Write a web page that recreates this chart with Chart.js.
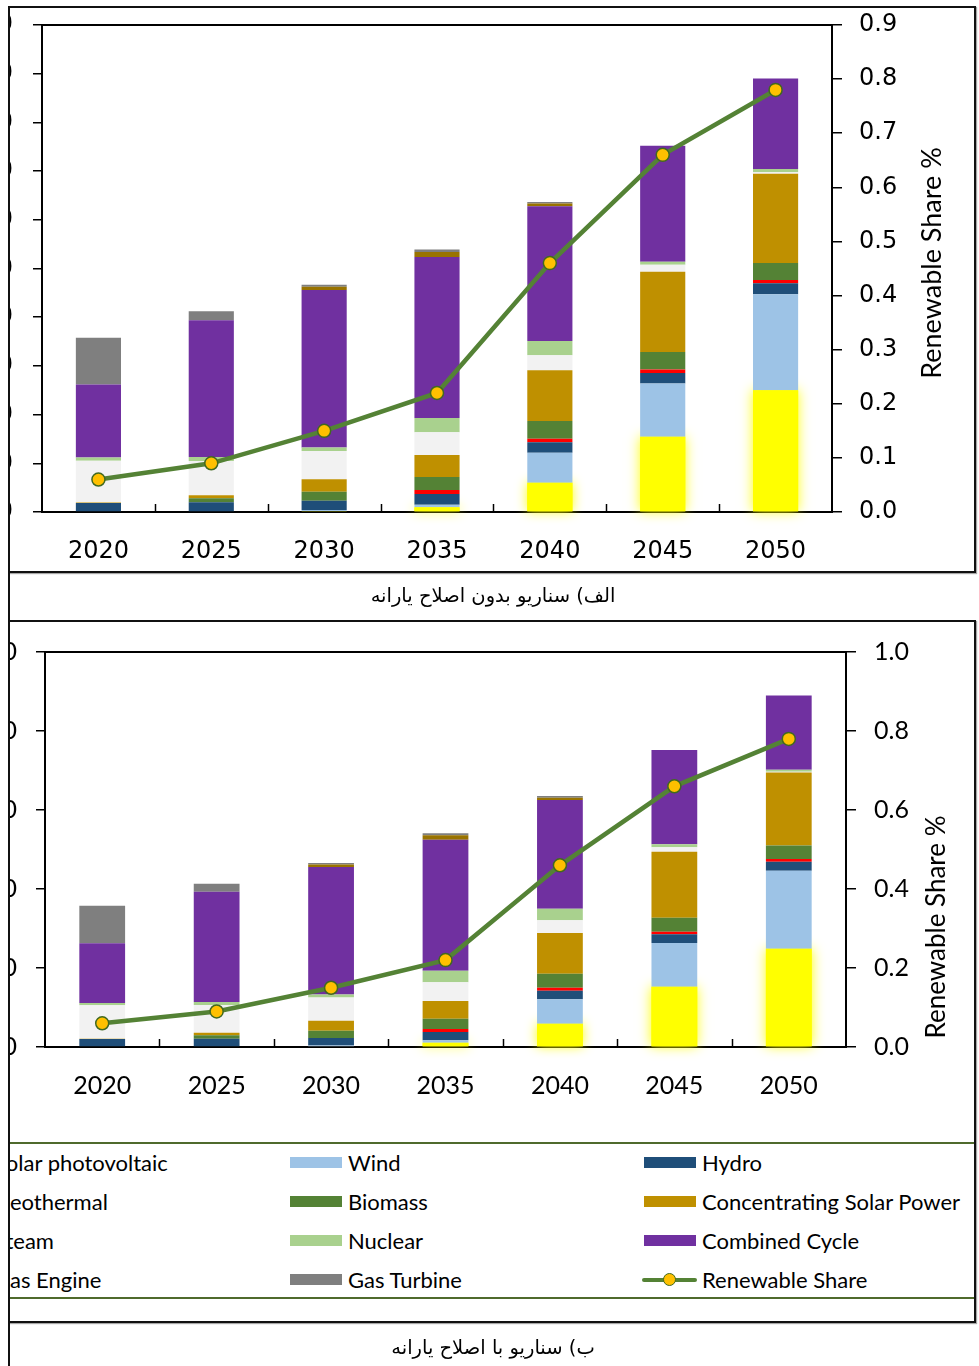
<!DOCTYPE html>
<html lang="fa">
<head>
<meta charset="utf-8">
<title>Renewable Share</title>
<script src="https://cdn.jsdelivr.net/npm/chart.js@4.4.1/dist/chart.umd.min.js"></script>
<style>
  html, body { margin: 0; padding: 0; background: #fff; }
  body { position: relative; width: 979px; height: 1366px; overflow: hidden; }
  .clip { position: absolute; left: 0; top: 0; width: 979px; height: 1366px; clip-path: inset(0 0 0 10px); }
  .clip canvas { position: absolute; left: -100px; }
  .frame { position: absolute; box-sizing: border-box; border: 2px solid #111; box-shadow: 1px 1px 1px rgba(0,0,0,0.35); }
  .vline { position: absolute; background: #111; }
  .caption { position: absolute; left: 10px; width: 966px; text-align: center; direction: rtl;
             font-family: "DejaVu Sans", sans-serif; font-size: 19.5px; color: #000; line-height: 26px; }
  .rule { position: absolute; left: 10px; width: 965px; height: 2px; background: #4f6a2c; }
  .lg-item { position: absolute; height: 30px; display: flex; align-items: center; white-space: nowrap;
             font-family: Lato, sans-serif; font-size: 22px; color: #000; }
  .lg-swatch { width: 52px; height: 11px; margin-right: 6px; }
  .lg-line { position: relative; width: 55px; height: 14px; margin-right: 5px; }
  .lg-line .bar { position: absolute; left: 0; top: 5px; width: 55px; height: 4.5px; background: #548235; border-radius: 2px; }
  .lg-line .dot { position: absolute; left: 21px; top: 0; width: 11px; height: 11px; border-radius: 50%;
                  background: #FFC000; border: 1.5px solid #41691f; }
</style>
</head>
<body>
<div class="clip">
  <canvas id="chartA" width="1079" height="572" style="top:0px"></canvas>
  <canvas id="chartB" width="1079" height="518" style="top:622px"></canvas>
  <div class="rule" style="top:1142px"></div>
  <div class="rule" style="top:1297px"></div>
  <div id="legend"></div>
</div>
<div class="frame" style="left:8px; top:6px; width:968px; height:567px;"></div>
<div class="frame" style="left:8px; top:620px; width:968px; height:703px;"></div>
<div class="vline" style="left:8px; top:6px; width:2px; height:1360px;"></div>
<div class="caption" style="top:583px">الف) سناریو بدون اصلاح یارانه</div>
<div class="caption" style="top:1335px">ب) سناریو با اصلاح یارانه</div>

<script>
// ---- Categories and series (electricity generation, TWh) ----
const years = ['2020', '2025', '2030', '2035', '2040', '2045', '2050'];

const techNames = ['Solar photovoltaic', 'Wind', 'Hydro', 'Geothermal', 'Biomass',
                   'Concentrating Solar Power', 'Steam', 'Nuclear', 'Combined Cycle',
                   'Gas Engine', 'Gas Turbine'];
const techColors = ['#FFFF00', '#9DC3E6', '#1F4E79', '#FF0000', '#548235',
                    '#BF9000', '#F2F2F2', '#A9D18E', '#7030A0', '#997300', '#7F7F7F'];
const shareLabel = 'Renewable Share';

// Scenario without subsidy reform
const solarPvA   = [0,    0,     2,     9.6,   60.2,  154.6, 249.9];
const windA      = [0,    0,     2,     5.5,   61.6,  109.4, 197.1];
const hydroA     = [18.5, 19.9,  19.2,  21.9,  21.2,  21.2,  22.6];
const geoA       = [0,    0,     0,     8.2,   7.6,   7.6,   6.8];
const biomassA   = [0,    8.2,   18.5,  26.7,  36.3,  35.5,  34.9];
const cspA       = [1,    6.2,   25.3,  45.2,  104.1, 164.9, 183.4];
const steamA     = [85.6, 70.5,  58.2,  46.5,  30.8,  14.4,  2.7];
const nuclearA   = [6.8,  8.2,   7.5,   29.4,  29.4,  6.2,   6.8];
const combinedA  = [149.9, 280.7, 323,  330.6, 276.6, 238.2, 186];
const gasEngineA = [0,    0,     6.8,   10.3,  5.5,   0,     0];
const gasTurbA   = [95.8, 18.5,  4.1,   5,     3.5,   0,     0];
const shareA     = [0.06, 0.09,  0.15,  0.22,  0.46,  0.66,  0.78];

// Scenario with subsidy reform
const solarPvB   = [0,    0,     2,     11,    59.1,  152.8, 249];
const windB      = [0,    0,     1.5,   5.9,   61.6,  110.5, 197.5];
const hydroB     = [20.3, 21.1,  19,    21.1,  21.9,  21.9,  22.8];
const geoB       = [0,    0,     0,     7.6,   7.6,   6.8,   6.8];
const biomassB   = [0,    8.4,   18.6,  26.2,  35.4,  35.4,  33.8];
const cspB       = [0.8,  6.8,   25.3,  44.7,  103,   167.1, 184.8];
const steamB     = [84.4, 70,    59.1,  47.3,  32.1,  11,    2];
const nuclearB   = [5.9,  7.6,   7.6,   29.5,  29.5,  7.6,   5];
const combinedB  = [151,  279.4, 322.4, 331.7, 275.1, 238.9, 188.3];
const gasEngineB = [0,    0,     6.8,   11,    5.9,   0,     0];
const gasTurbB   = [95.4, 20.3,  3.4,   5.1,   4.2,   0,     0];
const shareB     = [0.06, 0.09,  0.15,  0.22,  0.46,  0.66,  0.78];

// Axis ranges and tick steps
const genMax = 1000;
const genStepA = 100, genStepB = 200;
const shareMaxA = 0.9, shareStepA = 0.1;
const shareMaxB = 1.0, shareStepB = 0.2;

// ---- Plugins ----
// Soft glow behind the solar PV segments
const pvGlow = {
  id: 'pvGlow',
  beforeDatasetsDraw(chart) {
    const ctx = chart.ctx;
    const meta = chart.getDatasetMeta(0);
    ctx.save();
    ctx.shadowColor = 'rgba(255,255,0,0.95)';
    ctx.shadowBlur = 12;
    ctx.fillStyle = '#FFFF00';
    meta.data.forEach(bar => {
      const p = bar.getProps(['x', 'y', 'base', 'width'], true);
      if (p.base - p.y > 1) ctx.fillRect(p.x - p.width / 2, p.y, p.width, p.base - p.y);
    });
    ctx.restore();
  }
};

// Plot box top edge, inner category ticks and the rotated right-axis title
const plotDecor = {
  id: 'plotDecor',
  beforeDatasetsDraw(chart) {
    const { ctx, chartArea, scales } = chart;
    ctx.save();
    ctx.strokeStyle = '#000';
    ctx.lineWidth = 2;
    ctx.beginPath();
    ctx.moveTo(chartArea.left, chartArea.top);
    ctx.lineTo(chartArea.right, chartArea.top);
    ctx.stroke();
    const xs = scales.x;
    ctx.lineWidth = 1.5;
    for (let i = 0; i < xs.ticks.length - 1; i++) {
      const bx = Math.round((xs.getPixelForTick(i) + xs.getPixelForTick(i + 1)) / 2) + 0.5;
      ctx.beginPath();
      ctx.moveTo(bx, chartArea.bottom);
      ctx.lineTo(bx, chartArea.bottom - 8);
      ctx.stroke();
    }
    ctx.restore();
  },
  afterDraw(chart, args, opts) {
    const { ctx, chartArea } = chart;
    ctx.save();
    ctx.fillStyle = '#000';
    ctx.font = opts.font;
    ctx.textAlign = 'center';
    ctx.textBaseline = 'middle';
    ctx.translate(chartArea.right + opts.dx, opts.cy);
    ctx.rotate(-Math.PI / 2);
    ctx.fillText(opts.text, 0, 0);
    ctx.restore();
  }
};

function buildDatasets(series, share) {
  const ds = series.map((vals, i) => ({
    type: 'bar',
    label: techNames[i],
    data: vals,
    backgroundColor: techColors[i],
    borderWidth: 0,
    yAxisID: 'y',
    stack: 'gen',
    order: 1,
    barPercentage: 0.4,
    categoryPercentage: 1.0
  }));
  ds.push({
    type: 'line',
    label: shareLabel,
    data: share,
    yAxisID: 'y1',
    order: 0,
    borderColor: '#548235',
    borderWidth: 4.5,
    tension: 0,
    pointRadius: 6.5,
    pointHoverRadius: 6.5,
    pointBackgroundColor: '#FFC000',
    pointBorderColor: '#41691f',
    pointBorderWidth: 1.5,
    clip: false
  });
  return ds;
}

// Fixed axis thickness; the plot box edges are set by layout padding only
function fixWidth(w) {
  return s => { s.width = w; s.paddingTop = 0; s.paddingBottom = 0; };
}

function makeChart(id, datasets, c) {
  const tickFont = { family: c.fontFamily, size: c.fontSize };
  return new Chart(document.getElementById(id), {
    data: { labels: years, datasets },
    plugins: [pvGlow, plotDecor],
    options: {
      responsive: false,
      animation: false,
      events: [],
      layout: { autoPadding: false, padding: { top: c.padTop, bottom: 0, left: 0, right: 0 } },
      plugins: {
        legend: { display: false },
        tooltip: { enabled: false },
        plotDecor: { text: 'Renewable Share %', font: c.titleFont, dx: c.titleDx, cy: c.titleCy }
      },
      scales: {
        x: {
          stacked: true,
          offset: true,
          grid: { display: false, drawTicks: false, tickLength: 0 },
          border: { display: true, color: '#000', width: 2 },
          ticks: { color: '#000', font: tickFont, padding: c.xPad, maxRotation: 0 },
          afterFit(s) { s.height = c.xHeight; s.paddingLeft = 0; s.paddingRight = 0; }
        },
        y: {
          stacked: true,
          position: 'left',
          min: 0, max: genMax,
          ticks: { stepSize: c.genStep, color: '#000', font: tickFont, padding: c.yPadL },
          grid: { drawOnChartArea: false, drawTicks: true, tickLength: 9, color: '#000', lineWidth: 1.5 },
          border: { display: true, color: '#000', width: 2 },
          afterFit: fixWidth(c.leftWidth)
        },
        y1: {
          position: 'right',
          min: 0, max: c.shareMax,
          ticks: { stepSize: c.shareStep, color: '#000', font: tickFont, padding: c.yPadR,
                   callback: v => Number(v).toFixed(1) },
          grid: { drawOnChartArea: false, drawTicks: true, tickLength: 10, color: '#000', lineWidth: 1.5 },
          border: { display: true, color: '#000', width: 2 },
          afterFit: fixWidth(c.rightWidth)
        }
      }
    }
  });
}

const chartA = makeChart('chartA',
  buildDatasets([solarPvA, windA, hydroA, geoA, biomassA, cspA, steamA, nuclearA, combinedA, gasEngineA, gasTurbA], shareA),
  { fontFamily: '"DejaVu Sans"', fontSize: 24, padTop: 25, xHeight: 60, xPad: 25,
    genStep: genStepA, shareMax: shareMaxA, shareStep: shareStepA,
    leftWidth: 142, rightWidth: 147, yPadL: 20, yPadR: 17,
    titleFont: '27px Lato', titleDx: 100, titleCy: 263 });

const chartB = makeChart('chartB',
  buildDatasets([solarPvB, windB, hydroB, geoB, biomassB, cspB, steamB, nuclearB, combinedB, gasEngineB, gasTurbB], shareB),
  { fontFamily: 'Lato', fontSize: 25, padTop: 30, xHeight: 93, xPad: 24,
    genStep: genStepB, shareMax: shareMaxB, shareStep: shareStepB,
    leftWidth: 145, rightWidth: 133, yPadL: 19, yPadR: 18,
    titleFont: '26px Lato', titleDx: 91, titleCy: 305 });

// ---- Shared legend, three columns, filled row by row ----
(function buildLegend(chart) {
  const host = document.getElementById('legend');
  const x0 = -64, dx = 354, y0 = 1147, dy = 39.2;
  chart.data.datasets.forEach((ds, i) => {
    const col = i % 3, row = Math.floor(i / 3);
    const item = document.createElement('div');
    item.className = 'lg-item';
    item.style.left = (x0 + col * dx + (ds.type === 'line' ? -2 : 0)) + 'px';
    item.style.top = (y0 + row * dy) + 'px';
    if (ds.type === 'line') {
      const mk = document.createElement('div');
      mk.className = 'lg-line';
      mk.innerHTML = '<div class="bar"></div><div class="dot"></div>';
      item.appendChild(mk);
    } else {
      const sw = document.createElement('div');
      sw.className = 'lg-swatch';
      sw.style.background = ds.backgroundColor;
      item.appendChild(sw);
    }
    const tx = document.createElement('span');
    tx.textContent = ds.label;
    item.appendChild(tx);
    host.appendChild(item);
  });
})(chartB);
</script>
</body>
</html>
